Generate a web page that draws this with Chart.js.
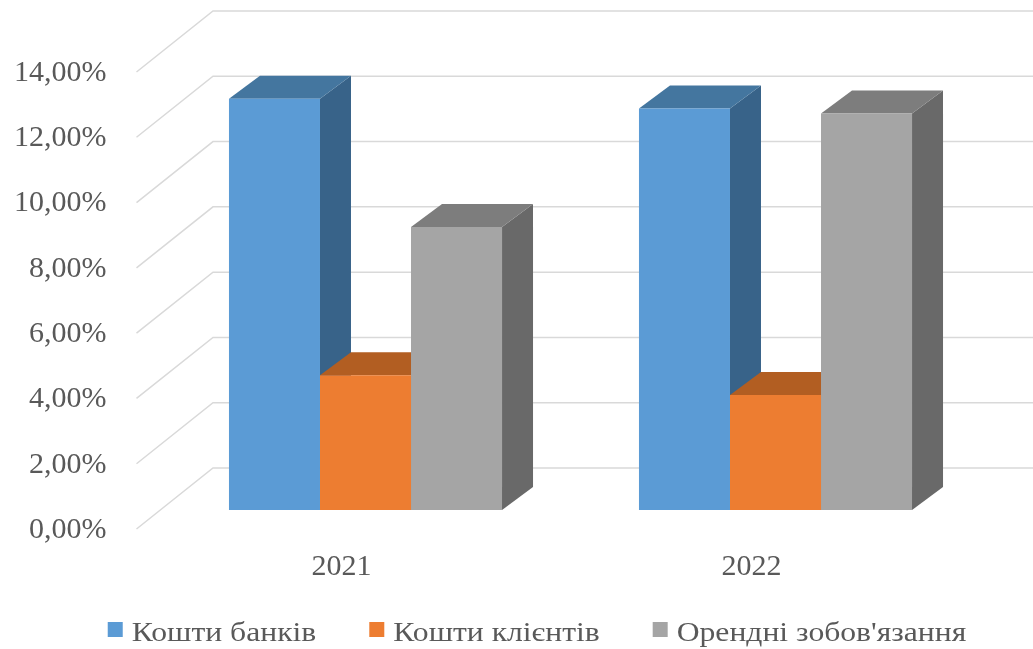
<!DOCTYPE html>
<html>
<head>
<meta charset="utf-8">
<script src="https://cdn.jsdelivr.net/npm/chart.js@4.4.1/dist/chart.umd.min.js"></script>
<style>
  html, body { margin: 0; padding: 0; background: #ffffff; }
  #wrap { width: 1033px; height: 649px; position: relative; }
</style>
</head>
<body>
<div id="wrap"><canvas id="c" width="1033" height="649"></canvas></div>
<script>
// ---- data ----
const categories = ['2021', '2022'];
const seriesNames = ['Кошти банків', 'Кошти клієнтів', "Орендні зобов'язання"];
const bankFunds = [12.6, 12.3];     // %
const clientFunds = [4.13, 3.52];   // %
const leaseLiab = [8.67, 12.15];    // %
const yMin = 0, yMax = 14, yStep = 2;

// ---- style ----
const FONT = "'Liberation Serif', 'Times New Roman', serif";
const TEXT = '#595959';
const frontColors = ['#5B9BD5', '#ED7D31', '#A5A5A5'];
const topColors = ['#44769F', '#B25E22', '#7D7D7D'];
const sideColors = ['#386389', '#B25E22', '#696969'];
const DX = 31, DY = -23;           // bar depth
const FRONT = { dx: -24, dy: 19 }; // grid front edge relative to bar plane
const BACK = { dx: 52.5, dy: -42 };// back wall relative to bar plane

const fmt = v => v.toFixed(2).replace('.', ',') + '%';

const depthPlugin = {
  id: 'depth3d',
  beforeDatasetsDraw(chart) {
    const ctx = chart.ctx, ys = chart.scales.y, area = chart.chartArea;
    ctx.save();
    ctx.strokeStyle = '#D9D9D9';
    ctx.lineWidth = 1.5;
    ys.ticks.forEach(t => {
      const yb = ys.getPixelForValue(t.value);
      ctx.beginPath();
      ctx.moveTo(area.left + FRONT.dx, yb + FRONT.dy);
      ctx.lineTo(area.left + BACK.dx, yb + BACK.dy);
      ctx.lineTo(chart.width, yb + BACK.dy);
      ctx.stroke();
    });
    const n = chart.data.labels.length;
    for (let i = 0; i < n; i++) {
      chart.data.datasets.forEach((ds, di) => {
        const el = chart.getDatasetMeta(di).data[i];
        const p = el.getProps(['x', 'y', 'base', 'width'], true);
        const l = p.x - p.width / 2, r = p.x + p.width / 2;
        ctx.fillStyle = sideColors[di];
        ctx.beginPath();
        ctx.moveTo(r, p.y); ctx.lineTo(r + DX, p.y + DY);
        ctx.lineTo(r + DX, p.base + DY); ctx.lineTo(r, p.base);
        ctx.closePath(); ctx.fill();
        ctx.fillStyle = topColors[di];
        ctx.beginPath();
        ctx.moveTo(l, p.y); ctx.lineTo(l + DX, p.y + DY);
        ctx.lineTo(r + DX, p.y + DY); ctx.lineTo(r, p.y);
        ctx.closePath(); ctx.fill();
      });
    }
    ctx.restore();
  }
};

const legendPlugin = {
  id: 'customLegend',
  afterDraw(chart) {
    const ctx = chart.ctx;
    ctx.save();
    ctx.font = '28px ' + FONT;
    const sx = 1.13; // horizontal stretch of legend text
    const box = 15, gapText = 9, gapItem = 53;
    const items = chart.data.datasets.map((d, i) => ({ label: d.label, color: frontColors[i], w: ctx.measureText(d.label).width * sx }));
    const total = items.reduce((s, it) => s + box + gapText + it.w, 0) + gapItem * (items.length - 1);
    let x = 537 - total / 2;
    const baseline = 641;
    items.forEach(it => {
      ctx.fillStyle = it.color;
      ctx.fillRect(x, 622, box, box);
      ctx.fillStyle = TEXT;
      ctx.textBaseline = 'alphabetic';
      ctx.textAlign = 'left';
      ctx.save();
      ctx.translate(x + box + gapText, baseline);
      ctx.scale(sx, 1);
      ctx.fillText(it.label, 0, 0);
      ctx.restore();
      x += box + gapText + it.w + gapItem;
    });
    ctx.restore();
  }
};

new Chart(document.getElementById('c'), {
  type: 'bar',
  data: {
    labels: categories,
    datasets: [
      { label: seriesNames[0], data: bankFunds, backgroundColor: frontColors[0] },
      { label: seriesNames[1], data: clientFunds, backgroundColor: frontColors[1] },
      { label: seriesNames[2], data: leaseLiab, backgroundColor: frontColors[2] }
    ]
  },
  options: {
    responsive: false,
    animation: false,
    devicePixelRatio: 1,
    layout: { padding: { left: 0, right: 52.5, top: 53, bottom: 0 } },
    datasets: { bar: { categoryPercentage: 0.666, barPercentage: 1.0, borderWidth: 0 } },
    plugins: { legend: { display: false }, tooltip: { enabled: false } },
    scales: {
      x: {
        grid: { display: false, drawTicks: false },
        border: { display: false },
        ticks: { color: TEXT, font: { family: FONT, size: 30 }, padding: 39, labelOffset: -24 },
        afterFit(s) { s.height = 139; s.paddingLeft = 0; s.paddingRight = 0; }
      },
      y: {
        min: yMin, max: yMax,
        grid: { display: false, drawTicks: false },
        border: { display: false },
        ticks: {
          stepSize: yStep, color: TEXT, font: { family: FONT, size: 30 },
          padding: 54, labelOffset: 20,
          callback: v => fmt(v)
        },
        afterFit(s) { s.width = 160.5; s.paddingTop = 0; s.paddingBottom = 0; }
      }
    }
  },
  plugins: [depthPlugin, legendPlugin]
});
</script>
</body>
</html>
